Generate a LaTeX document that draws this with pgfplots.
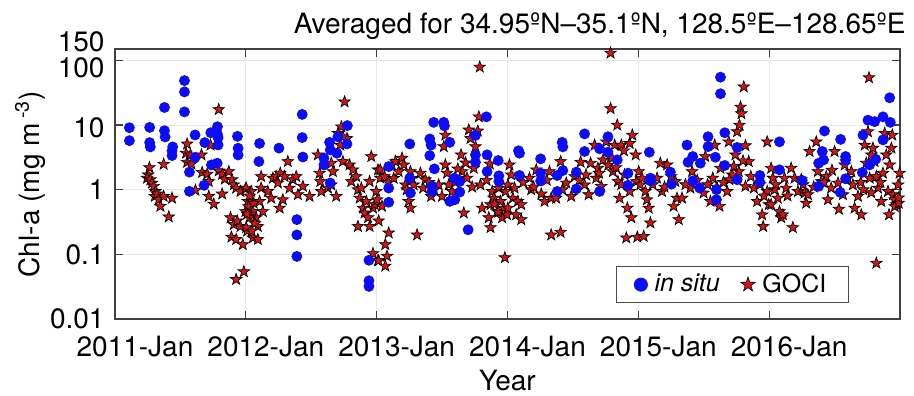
\documentclass[border=0pt]{standalone}
\usepackage{fontspec}
\setmainfont{TeX Gyre Heros}
\usepackage{pgfplots}
\pgfplotsset{compat=1.18}
\definecolor{starred}{RGB}{218,20,20}
\definecolor{dotblue}{RGB}{12,12,245}
\pgfdeclareplotmark{pentastar}{%
  \pgfpathmoveto{\pgfqpointpolar{90}{\pgfplotmarksize}}%
  \pgfpathlineto{\pgfqpointpolar{126}{0.40\pgfplotmarksize}}%
  \pgfpathlineto{\pgfqpointpolar{162}{\pgfplotmarksize}}%
  \pgfpathlineto{\pgfqpointpolar{198}{0.40\pgfplotmarksize}}%
  \pgfpathlineto{\pgfqpointpolar{234}{\pgfplotmarksize}}%
  \pgfpathlineto{\pgfqpointpolar{270}{0.40\pgfplotmarksize}}%
  \pgfpathlineto{\pgfqpointpolar{306}{\pgfplotmarksize}}%
  \pgfpathlineto{\pgfqpointpolar{342}{0.40\pgfplotmarksize}}%
  \pgfpathlineto{\pgfqpointpolar{18}{\pgfplotmarksize}}%
  \pgfpathlineto{\pgfqpointpolar{54}{0.40\pgfplotmarksize}}%
  \pgfpathclose
  \pgfusepathqfillstroke}
\begin{document}
\begin{tikzpicture}
\begin{axis}[name=ax, scale only axis, width=392.5pt, height=135pt,
  xmin=2011, xmax=2017, ymode=log, ymin=0.01, ymax=150,
  xtick={2011,2012,2013,2014,2015,2016},
  xticklabels={2011-Jan,2012-Jan,2013-Jan,2014-Jan,2015-Jan,2016-Jan},
  ytick={0.01,0.1,1,10,100,150},
  yticklabels={0.01,0.1,1,\raisebox{-1.5pt}[\height][\depth]{10},\raisebox{-3.5pt}[\height][\depth]{100},\raisebox{3.5pt}[\height][\depth]{150}},
  yminorticks=false, xminorticks=false,
  grid=major, grid style={black!9, line width=0.5pt},
  axis line style={black!75, line width=0.8pt},
  major tick style={black!75, line width=0.6pt}, major tick length=4pt,
  tick label style={font=\fontsize{14}{14}\selectfont, black},
  xticklabel style={xshift=10pt, yshift=-5pt},
  yticklabel style={xshift=-1.7pt},
  xlabel={Year},
  ylabel={Chl-a (mg m\,\textsuperscript{-3})},
  label style={font=\fontsize{14}{14}\selectfont},
  xlabel style={at={(axis description cs:0.5,-0.226)}, anchor=center},
  ylabel style={at={(axis description cs:-0.108,0.5)}, anchor=center},
  legend columns=2,
  legend style={at={(rel axis cs:0.935,0.059)}, anchor=south east,
    draw=black!70, line width=0.6pt, font=\fontsize{12.5}{12.5}\selectfont,
    inner xsep=9pt, inner ysep=1.5pt,
    /tikz/every odd column/.append style={column sep=1.6pt},
    /tikz/every even column/.append style={column sep=8.5pt}},
  legend cell align=left,
]
\addlegendimage{only marks, mark=*, mark size=3.2pt, color=dotblue}
\addlegendentry{\textit{in situ}}
\addlegendimage{only marks, mark=pentastar, mark size=3.8pt, mark options={draw=black, fill=starred, line width=0.3pt}}
\addlegendentry{GOCI}
% GOCI
\addplot[forget plot, only marks, mark=pentastar, mark size=3pt, mark options={draw=black, fill=starred, line width=0.35pt}] coordinates {
(2011.263,2.2)(2011.253,1.70)(2011.245,1.51)(2011.270,1.43)(2011.283,1.27)(2011.296,1.13)(2011.309,0.94)(2011.304,0.79)(2011.321,0.86)(2011.334,0.70)(2011.347,0.555)(2011.372,0.79)(2011.372,2.48)(2011.411,0.38)(2011.436,0.74)(2011.551,5.1)(2011.543,3.67)(2011.551,2.66)(2011.584,2.5)(2011.577,3.46)(2011.615,0.98)(2011.661,3.46)(2011.666,1.85)(2011.704,1.74)(2011.717,1.34)(2011.730,4.9)(2011.717,0.79)(2011.755,0.6)(2011.793,1.96)(2011.819,1.74)(2011.819,0.86)(2011.839,1.46)(2011.870,1.91)(2011.895,1.43)(2011.908,1.19)(2011.926,1.06)(2011.959,0.94)(2011.997,1.03)(2011.883,0.37)(2011.908,0.29)(2011.934,0.33)(2011.959,0.27)(2011.890,0.185)(2011.926,0.17)(2011.977,0.142)(2011.997,0.46)(2012.010,0.23)(2011.985,0.054)(2011.926,0.041)(2011.793,17.4)
(2012.003,1.06)(2012.015,0.66)(2012.041,0.94)(2012.054,0.46)(2012.079,0.37)(2012.092,0.27)(2012.028,0.37)(2012.003,0.26)(2012.105,0.66)(2012.117,1.06)(2012.117,1.6)(2012.130,0.46)(2012.054,0.18)(2012.092,0.17)(2012.168,0.94)(2012.194,0.74)(2012.207,1.51)(2012.232,1.6)(2012.245,1.27)(2012.258,0.52)(2012.263,1.8)(2012.283,0.7)(2012.296,1.6)(2012.321,2.73)(2012.334,1.06)(2012.360,1.43)(2012.385,1.6)(2012.398,0.84)(2012.436,1.13)(2012.487,0.79)(2012.551,3.46)(2012.564,1.8)(2012.569,1.34)(2012.577,0.94)(2012.628,1.06)(2012.653,2.57)(2012.666,1.91)(2012.691,0.79)(2012.730,9.4)(2012.722,4.9)(2012.742,2.73)(2012.755,22.9)(2012.773,6.2)(2012.793,2.42)(2012.806,1.34)(2012.819,2.03)(2012.844,1.6)(2012.857,1.0)(2012.870,0.74)(2012.883,1.06)(2012.895,0.52)(2012.908,0.437)(2012.921,0.66)(2012.934,0.37)(2012.946,0.27)(2012.959,3.26)(2012.972,0.52)(2012.946,1.34)(2012.985,0.59)(2012.857,0.27)(2012.972,0.103)(2013.010,0.08)(2013.010,2.03)(2012.997,0.94)(2012.704,7.45)(2012.742,6.6)(2012.653,1.19)(2012.02,0.55)(2012.06,0.62)(2012.03,0.8)(2012.07,0.3)(2012.01,0.42)(2012.045,0.23)
(2013.003,0.7)(2013.015,0.33)(2013.066,0.142)(2013.092,0.215)(2013.079,0.094)(2013.015,0.08)(2013.066,0.066)(2013.028,2.03)(2013.028,1.51)(2013.041,0.555)(2013.117,2.42)(2013.143,2.73)(2013.168,1.91)(2013.194,3.07)(2013.207,2.42)(2013.220,1.19)(2013.245,0.66)(2013.258,0.52)(2013.258,1.91)(2013.283,1.19)(2013.309,0.2)(2013.334,1.8)(2013.355,1.06)(2013.372,1.43)(2013.416,0.79)(2013.474,1.19)(2013.499,0.79)(2013.525,7.0)(2013.513,4.64)(2013.525,2.42)(2013.538,1.8)(2013.551,1.19)(2013.577,0.94)(2013.645,3.46)(2013.653,1.91)(2013.666,0.437)(2013.691,1.51)(2013.704,8.4)(2013.717,6.2)(2013.742,2.15)(2013.755,4.64)(2013.781,13.4)(2013.788,79)(2013.773,8.1)(2013.793,1.19)(2013.806,0.52)(2013.857,0.37)(2013.870,0.59)(2013.883,0.94)(2013.870,0.26)(2013.895,0.74)(2013.921,0.46)(2013.934,1.06)(2013.946,0.66)(2013.959,0.37)(2013.972,0.52)(2013.985,0.94)(2013.980,0.089)(2013.997,0.41)(2013.865,2.5)(2013.06,1.6)(2013.09,1.3)(2013.13,1.5)(2013.23,1.0)(2013.27,1.5)(2013.40,1.3)(2013.44,1.0)(2013.60,1.3)(2013.62,2.1)(2013.68,2.6)(2013.73,1.1)(2013.84,1.4)(2013.90,0.6)(2013.93,0.45)
(2014.015,2.42)(2014.028,1.7)(2014.003,1.19)(2014.054,1.06)(2014.041,0.74)(2014.079,0.66)(2014.066,0.41)(2014.105,0.345)(2014.105,0.59)(2014.003,0.52)(2014.168,1.51)(2014.181,1.0)(2014.220,2.03)(2014.258,0.86)(2014.283,0.66)(2014.321,1.91)(2014.334,0.74)(2014.372,0.74)(2014.334,0.2)(2014.406,0.22)(2014.406,2.73)(2014.449,1.27)(2014.487,0.79)(2014.513,1.6)(2014.559,2.66)(2014.589,1.19)(2014.620,0.84)(2014.635,2.57)(2014.666,4.9)(2014.678,1.51)(2014.717,1.13)(2014.730,2.89)(2014.755,5.5)(2014.788,18)(2014.788,130)(2014.839,10)(2014.819,4.9)(2014.806,1.91)(2014.844,1.34)(2014.857,0.74)(2014.870,4.9)(2014.890,4.0)(2014.895,1.7)(2014.934,5.2)(2014.954,7.0)(2014.980,3.46)(2014.916,0.52)(2014.946,0.37)(2014.908,0.18)(2014.992,0.185)(2014.934,0.94)(2014.985,1.34)(2014.691,2.15)(2014.800,3.07)(2014.12,1.3)(2014.20,1.1)(2014.30,1.4)(2014.42,1.0)(2014.55,1.4)(2014.60,1.7)(2014.70,1.8)(2014.77,2.4)(2014.83,2.2)(2014.87,1.2)
(2015.003,1.91)(2015.015,1.19)(2015.028,1.51)(2015.054,0.94)(2015.066,0.7)(2015.079,0.52)(2015.092,0.307)(2015.041,0.19)(2015.143,1.51)(2015.168,2.57)(2015.181,0.94)(2015.220,2.42)(2015.283,1.34)(2015.296,0.74)(2015.270,0.555)(2015.309,0.345)(2015.334,0.74)(2015.398,1.06)(2015.411,1.91)(2015.512,3.26)(2015.499,0.89)(2015.551,0.66)(2015.569,1.51)(2015.584,4.9)(2015.620,0.555)(2015.628,2.15)(2015.679,0.94)(2015.691,5.5)(2015.717,1.7)(2015.742,3.46)(2015.755,7.9)(2015.773,10)(2015.781,19)(2015.788,15)(2015.806,39)(2015.819,4.8)(2015.844,2.73)(2015.819,1.13)(2015.883,1.06)(2015.908,0.66)(2015.946,0.41)(2015.954,0.27)(2015.985,5.5)(2015.985,0.94)(2015.997,0.59)(2015.768,1.91)(2015.696,1.43)(2015.11,1.2)(2015.20,1.1)(2015.25,1.6)(2015.36,1.2)(2015.45,1.4)(2015.53,1.2)(2015.60,1.1)(2015.65,1.3)(2015.73,2.3)(2015.80,2.8)(2015.86,1.6)(2015.93,1.2)(2015.96,0.8)
(2016.015,2.15)(2016.028,1.51)(2016.041,1.0)(2016.066,0.74)(2016.079,0.46)(2016.092,0.37)(2016.105,0.41)(2016.015,0.59)(2016.117,1.51)(2016.130,1.06)(2016.168,2.15)(2016.181,0.26)(2016.194,1.51)(2016.220,0.94)(2016.245,1.43)(2016.270,0.89)(2016.283,0.62)(2016.296,0.84)(2016.309,3.9)(2016.360,5.5)(2016.372,1.91)(2016.398,1.34)(2016.436,1.6)(2016.449,0.7)(2016.474,1.06)(2016.500,3.9)(2016.526,1.27)(2016.533,0.5)(2016.564,0.84)(2016.577,2.42)(2016.628,1.91)(2016.640,1.19)(2016.653,0.52)(2016.679,0.79)(2016.704,0.41)(2016.730,4.9)(2016.742,2.57)(2016.755,7.9)(2016.763,54)(2016.768,1.51)(2016.781,3.46)(2016.793,4.4)(2016.806,2.73)(2016.819,1.6)(2016.832,1.06)(2016.857,0.66)(2016.870,1.8)(2016.883,7.45)(2016.895,3.46)(2016.908,0.94)(2016.916,0.41)(2016.921,2.42)(2016.934,4.4)(2016.941,7.0)(2016.946,0.84)(2016.959,0.7)(2016.972,0.59)(2016.985,1.19)(2016.997,1.8)(2016.819,0.073)(2016.05,1.2)(2016.14,0.8)(2016.26,1.2)(2016.34,1.1)(2016.42,1.3)(2016.48,2.0)(2016.60,1.5)(2016.70,1.3)(2016.72,1.0)(2016.78,0.9)(2016.85,1.3)(2016.96,0.55)(2016.99,0.62)(2016.99,0.75)
};
% in situ
\addplot[forget plot, only marks, mark=*, mark size=2.5pt, color=dotblue] coordinates {
(2011.110,9.1)(2011.110,5.74)(2011.265,9.2)(2011.265,5.35)(2011.270,4.59)(2011.378,18.7)(2011.378,8.18)(2011.383,6.54)(2011.441,4.59)(2011.436,3.98)(2011.436,3.37)(2011.531,48.7)(2011.531,32.6)(2011.531,16.0)(2011.612,7.02)(2011.612,3.14)(2011.569,1.87)(2011.569,0.943)(2011.686,5.35)(2011.681,1.17)(2011.732,7.62)(2011.783,9.42)(2011.783,7.18)(2011.788,6.38)(2011.788,4.92)(2011.737,2.42)(2011.781,2.57)(2011.936,6.69)(2011.941,4.38)(2011.941,3.45)
(2012.105,5.2)(2012.100,2.73)(2012.253,4.4)(2012.431,14.6)(2012.431,6.4)(2012.436,3.2)(2012.390,0.345)(2012.390,0.2)(2012.390,0.093)(2012.597,3.07)(2012.597,2.42)(2012.645,1.27)(2012.640,5.4)(2012.645,4.13)(2012.704,6.6)(2012.696,3.67)(2012.776,9.8)(2012.773,5.1)(2012.941,0.081)(2012.941,0.039)(2012.941,0.032)
(2013.092,2.28)(2013.092,1.06)(2013.092,0.64)(2013.253,5.1)(2013.253,1.51)(2013.258,0.89)(2013.406,6.1)(2013.416,4.9)(2013.406,3.37)(2013.436,11.0)(2013.441,2.1)(2013.423,1.13)(2013.423,0.94)(2013.513,11.0)(2013.518,9.7)(2013.559,5.4)(2013.594,1.51)(2013.635,1.34)(2013.635,0.92)(2013.597,0.7)(2013.559,0.66)(2013.699,0.24)(2013.755,6.9)(2013.755,3.46)(2013.755,2.66)(2013.839,13.4)(2013.844,3.46)(2013.844,1.91)(2013.929,2.83)(2013.934,1.64)(2013.934,1.34)
(2014.084,4.0)(2014.092,3.67)(2014.092,1.66)(2014.253,3.0)(2014.253,1.8)(2014.253,1.37)(2014.380,1.66)(2014.380,0.94)(2014.418,5.4)(2014.423,4.6)(2014.423,1.98)(2014.526,1.87)(2014.526,1.03)(2014.589,7.3)(2014.589,3.9)(2014.704,4.3)(2014.704,0.94)(2014.768,6.6)(2014.768,3.8)(2014.839,2.89)(2014.921,1.8)(2014.921,1.17)
(2015.084,3.8)(2015.092,1.51)(2015.092,1.37)(2015.245,1.87)(2015.253,1.22)(2015.372,4.9)(2015.380,2.66)(2015.416,3.26)(2015.416,1.37)(2015.474,2.57)(2015.469,1.06)(2015.533,6.6)(2015.533,4.64)(2015.589,3.18)(2015.597,1.0)(2015.597,0.7)(2015.661,7.6)(2015.661,2.37)(2015.628,55)(2015.628,30.5)(2015.755,4.5)(2015.755,1.43)(2015.929,1.66)(2015.929,1.31)
(2016.079,5.5)(2016.079,2.03)(2016.253,1.39)(2016.378,2.57)(2016.378,1.13)(2016.406,3.9)(2016.416,2.89)(2016.423,8.1)(2016.546,6.0)(2016.584,3.26)(2016.584,2.89)(2016.584,1.48)(2016.543,0.91)(2016.717,7.0)(2016.712,1.85)(2016.755,11.9)(2016.806,11.3)(2016.768,2.42)(2016.814,2.96)(2016.870,13.4)(2016.870,5.9)(2016.921,26.4)(2016.926,11.0)
};
\end{axis}
\node[anchor=base east, font=\fontsize{14}{14}\selectfont] at ([xshift=6.3pt, yshift=8pt]ax.north east) {Averaged for 34.95ºN–35.1ºN, 128.5ºE–128.65ºE};
\pgfresetboundingbox
\path[use as bounding box] ([shift={(-57.5pt,-38pt)}]ax.south west) rectangle ([shift={(7pt,24.5pt)}]ax.north east);
\end{tikzpicture}
\end{document}
